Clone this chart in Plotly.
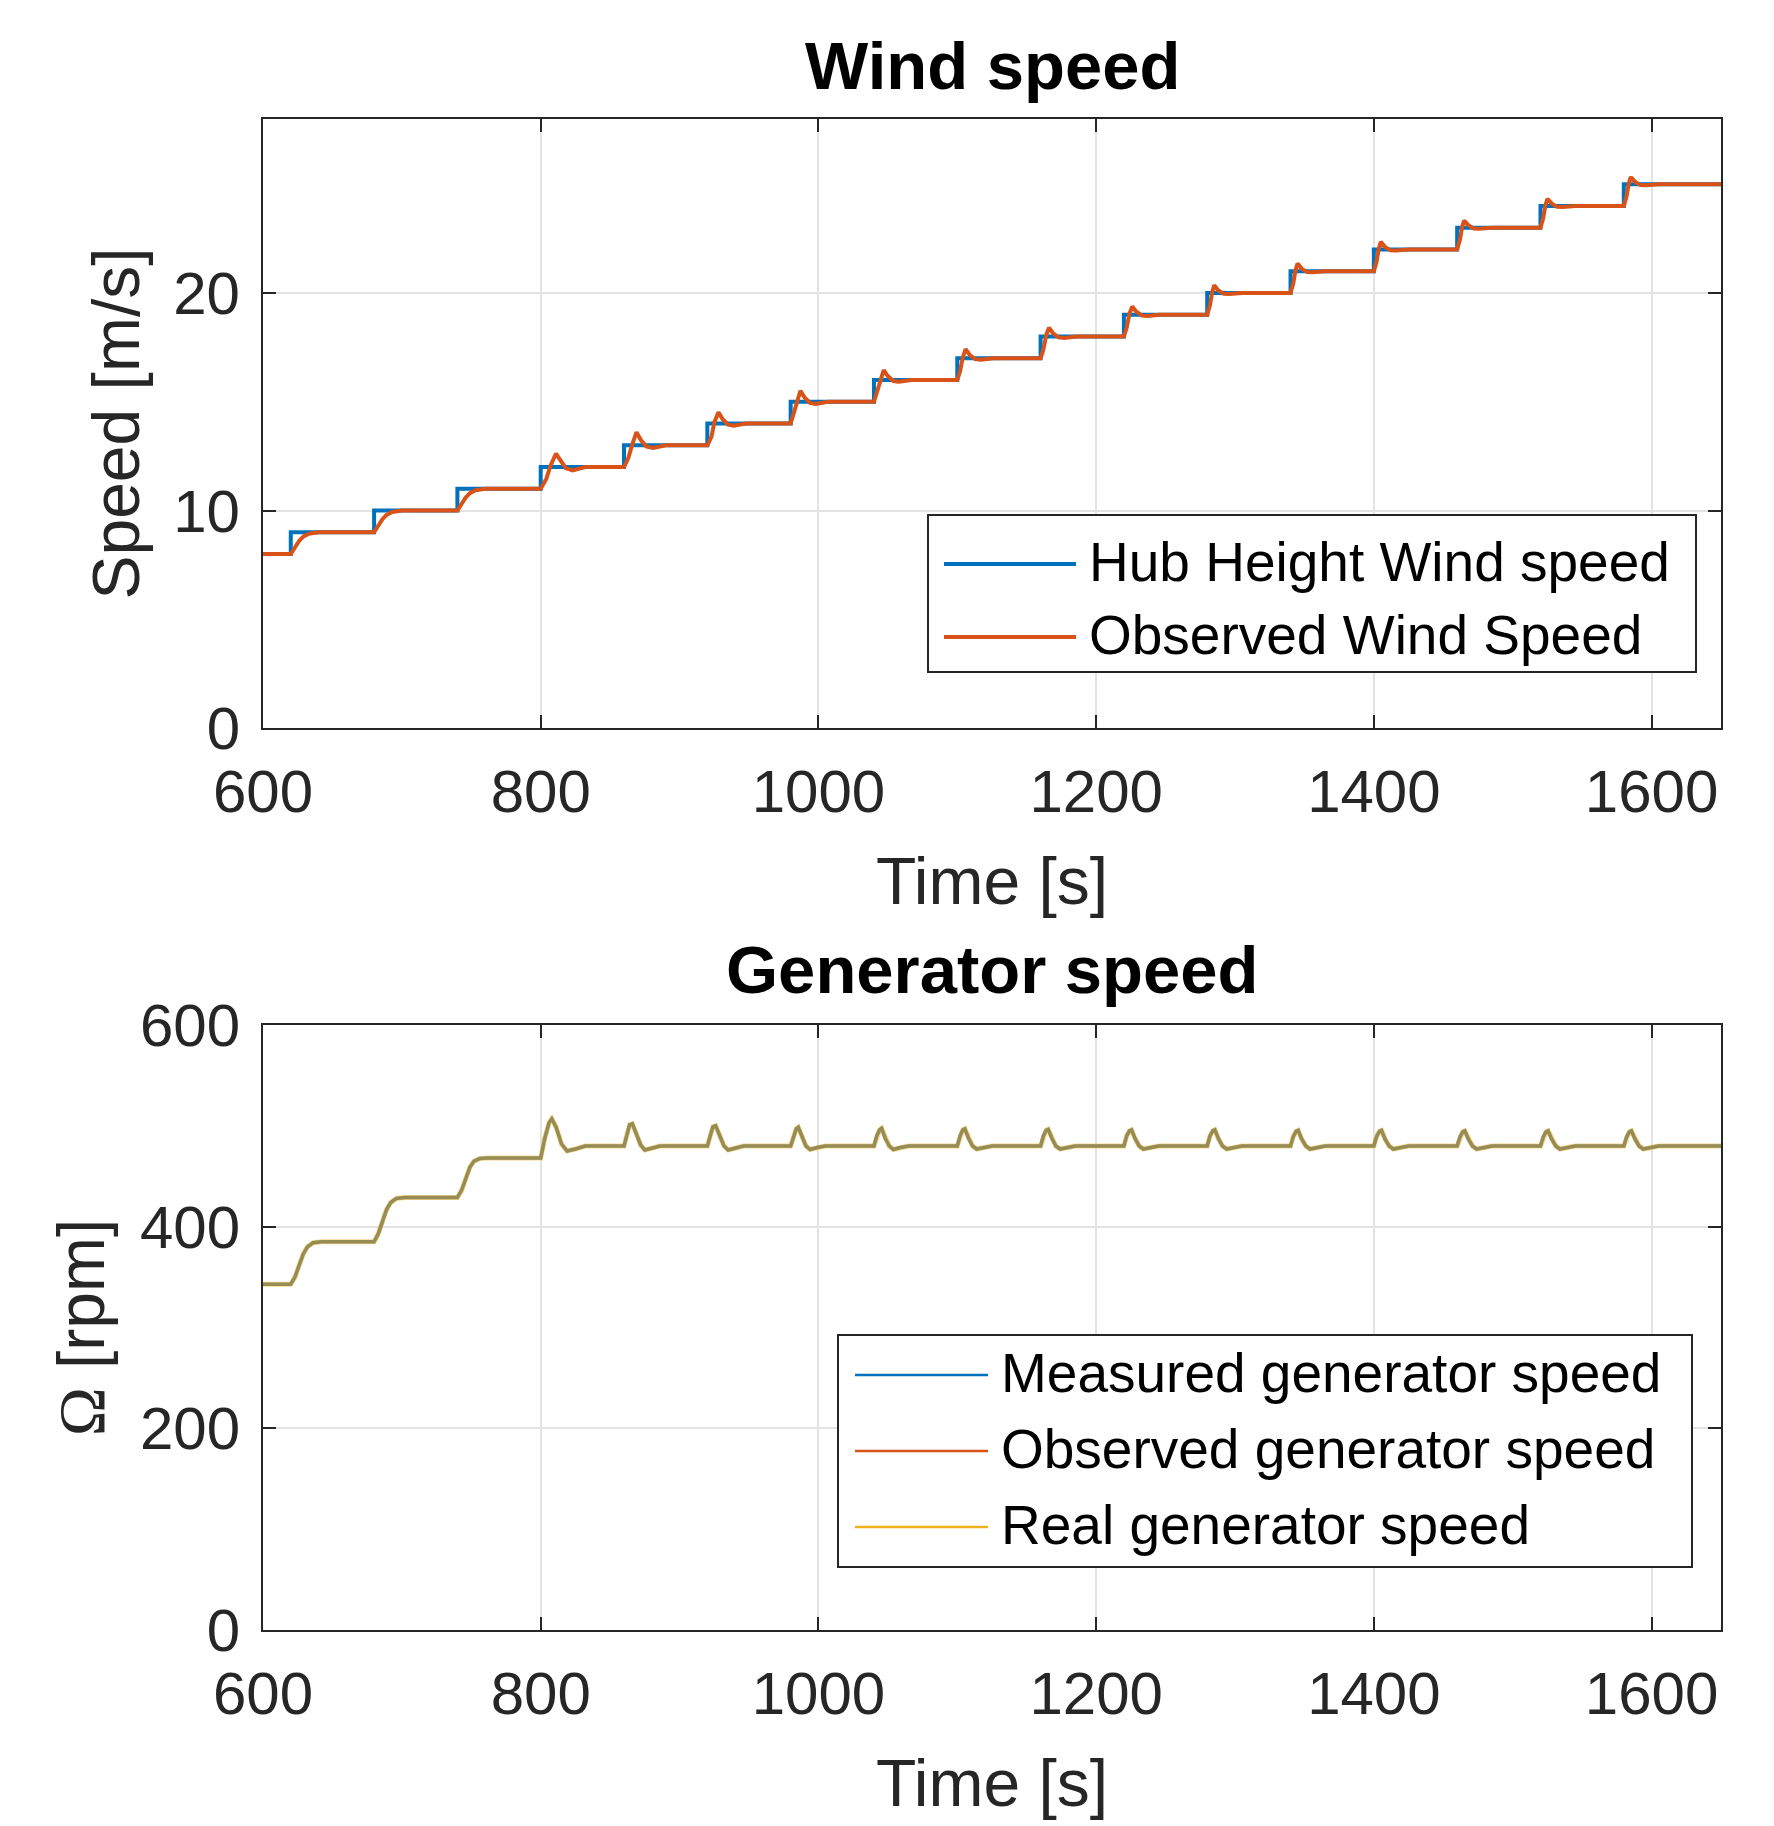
import plotly.graph_objects as go

# ---------------- data ----------------
time_ticks = [600, 800, 1000, 1200, 1400, 1600]
wind_ticks = [0, 10, 20]
gen_ticks = [0, 200, 400, 600]

# Hub height wind speed: step changes (held until next time)
hub_t = [600, 620, 680, 740, 800, 860, 920, 980, 1040, 1100, 1160, 1220,
         1280, 1340, 1400, 1460, 1520, 1580, 1650]
hub_v = [8, 9, 10, 11, 12, 13, 14, 15, 16, 17, 18, 19,
         20, 21, 22, 23, 24, 25, 25]

# Observed wind speed (estimator output)
obs_wind_t = [
    600, 620, 623, 626, 629, 633, 640,
    680, 683, 686, 689, 693, 700,
    740, 743, 746, 749, 753, 760,
    800, 804, 807, 811, 814, 818, 823, 832,
    860, 863, 866, 869, 872, 876, 881, 890,
    920, 923, 925, 928, 931, 935, 939, 948,
    980, 982, 985, 987, 990, 994, 998, 1007,
    1040, 1042, 1045, 1047, 1050, 1054, 1058, 1067,
    1100, 1102, 1104, 1106, 1109, 1113, 1117, 1126,
    1160, 1162, 1164, 1166, 1169, 1173, 1177, 1186,
    1220, 1222, 1224, 1226, 1229, 1233, 1237, 1246,
    1280, 1282, 1283.5, 1285, 1288, 1292, 1296, 1305,
    1340, 1342, 1343.5, 1345, 1348, 1352, 1356, 1365,
    1400, 1402, 1403.5, 1405, 1408, 1412, 1416, 1425,
    1460, 1462, 1463.5, 1465, 1468, 1472, 1476, 1485,
    1520, 1522, 1523.5, 1525, 1528, 1532, 1536, 1545,
    1580, 1582, 1583.5, 1585, 1588, 1592, 1596, 1605, 1650,
]
obs_wind_v = [
    8, 8, 8.3, 8.6, 8.8, 8.93, 9.0,
    9, 9.3, 9.6, 9.8, 9.93, 10.0,
    10, 10.3, 10.6, 10.8, 10.93, 11.0,
    11, 11.45, 12.05, 12.62, 12.3, 11.95, 11.84, 12.0,
    12, 12.4, 13.05, 13.6, 13.25, 12.95, 12.88, 13.0,
    13, 13.4, 14.05, 14.52, 14.2, 13.95, 13.9, 14.0,
    14, 14.4, 15.05, 15.5, 15.2, 14.95, 14.9, 15.0,
    15, 15.4, 16.05, 16.45, 16.18, 15.95, 15.92, 16.0,
    16, 16.4, 17.05, 17.42, 17.15, 16.96, 16.93, 17.0,
    17, 17.4, 18.05, 18.4, 18.15, 17.96, 17.93, 18.0,
    18, 18.4, 19.05, 19.38, 19.14, 18.96, 18.94, 19.0,
    19, 19.45, 20.02, 20.36, 20.12, 19.96, 19.95, 20.0,
    20, 20.45, 21.02, 21.35, 21.12, 20.96, 20.95, 21.0,
    21, 21.45, 22.02, 22.35, 22.12, 21.96, 21.95, 22.0,
    22, 22.45, 23.02, 23.33, 23.12, 22.96, 22.95, 23.0,
    23, 23.45, 24.02, 24.33, 24.12, 23.96, 23.95, 24.0,
    24, 24.45, 25.02, 25.33, 25.12, 24.96, 24.95, 25.0, 25.0,
]

# Generator speed [rpm]
gen_t = [
    600, 620, 623, 626, 629, 632, 636, 642,
    680, 683, 686, 689, 692, 696, 702,
    740, 743, 746, 749, 752, 756, 762,
    800, 803, 806, 808, 811, 815, 819, 825, 832,
    860, 862, 864, 866, 869, 872, 875, 880, 886,
    920, 922, 924, 926, 929, 932, 935, 940, 946,
    980, 982, 984, 985.5, 988, 991, 994, 999, 1005,
    1040, 1042, 1044, 1045.5, 1048, 1051, 1054, 1059, 1065,
    1100, 1102, 1104, 1105.5, 1108, 1111, 1114, 1119, 1125,
    1160, 1162, 1164, 1165.5, 1168, 1171, 1174, 1179, 1185,
    1220, 1222, 1224, 1225.5, 1228, 1231, 1234, 1239, 1245,
    1280, 1282, 1284, 1285.5, 1288, 1291, 1294, 1299, 1305,
    1340, 1342, 1344, 1345.5, 1348, 1351, 1354, 1359, 1365,
    1400, 1402, 1404, 1405.5, 1408, 1411, 1414, 1419, 1425,
    1460, 1462, 1464, 1465.5, 1468, 1471, 1474, 1479, 1485,
    1520, 1522, 1524, 1525.5, 1528, 1531, 1534, 1539, 1545,
    1580, 1582, 1584, 1585.5, 1588, 1591, 1594, 1599, 1605, 1650,
]
gen_measured = [
    343, 343, 350, 362, 373, 380, 384, 385,
    385, 393, 406, 417, 424, 428, 429,
    429, 436, 448, 459, 465, 467.5, 468,
    468, 488, 503, 507, 499, 482, 475, 477, 480,
    480, 492, 501, 502, 492, 481, 476, 478, 480,
    480, 491, 499, 500, 490, 480, 476, 478, 480,
    480, 490, 497, 498.5, 489, 480, 476.5, 478.5, 480,
    480, 490, 496, 497.5, 488, 480, 476.5, 478.5, 480,
    480, 490, 496, 497, 488, 480, 477, 478.5, 480,
    480, 490, 495.5, 496.5, 488, 480, 477, 478.5, 480,
    480, 490, 495, 496, 487.5, 480, 477, 478.5, 480,
    480, 490, 495, 496, 487.5, 480, 477, 478.5, 480,
    480, 489.5, 494.5, 495.5, 487, 480, 477, 478.5, 480,
    480, 489.5, 494.5, 495.5, 487, 480, 477, 478.5, 480,
    480, 489, 494, 495, 487, 480, 477, 478.5, 480,
    480, 489, 494, 495, 487, 480, 477, 478.5, 480,
    480, 489, 494, 495, 487, 480, 477, 478.5, 480, 480,
]
gen_observed = list(gen_measured)
gen_real = list(gen_measured)

wind_names = ["Hub Height Wind speed", "Observed Wind Speed"]
gen_names = ["Measured generator speed", "Observed generator speed",
             "Real generator speed"]

# ---------------- styling ----------------
BLUE, ORANGE, YELLOW = "#0072BD", "#D95319", "#EDB120"
FONT = "Liberation Sans, Arial, Helvetica, sans-serif"
AXC = "#262626"
W, H = 1774, 1826
ML, MR, MT, MB = 263, 53, 119, 196
PW, PH = W - ML - MR, H - MT - MB


def px_x(p):
    return (p - ML) / PW


def px_y(p):
    return (H - MB - p) / PH


fig = go.Figure()

fig.add_trace(go.Scatter(x=hub_t, y=hub_v, name=wind_names[0], mode="lines",
                         line=dict(color=BLUE, width=4, shape="hv"),
                         xaxis="x", yaxis="y", showlegend=False))
fig.add_trace(go.Scatter(x=obs_wind_t, y=obs_wind_v, name=wind_names[1],
                         mode="lines", line=dict(color=ORANGE, width=4),
                         xaxis="x", yaxis="y", showlegend=False))

fig.add_trace(go.Scatter(x=gen_t, y=gen_measured, name=gen_names[0],
                         mode="lines", line=dict(color=BLUE, width=3.5),
                         xaxis="x2", yaxis="y2", showlegend=False))
fig.add_trace(go.Scatter(x=gen_t, y=gen_observed, name=gen_names[1],
                         mode="lines", line=dict(color=ORANGE, width=3.5),
                         opacity=0.3, xaxis="x2", yaxis="y2",
                         showlegend=False))
fig.add_trace(go.Scatter(x=gen_t, y=gen_real, name=gen_names[2],
                         mode="lines", line=dict(color=YELLOW, width=5),
                         opacity=0.5, xaxis="x2", yaxis="y2",
                         showlegend=False))

top_dom = [px_y(728), 1.0]
bot_dom = [0.0, px_y(1025)]

common_x = dict(range=[600, 1650], tickvals=time_ticks,
                showgrid=True, gridcolor="#e3e3e3", gridwidth=1.5,
                showline=True, linecolor=AXC, linewidth=2, mirror="ticks",
                ticks="inside", ticklen=13, tickwidth=2, tickcolor=AXC,
                tickfont=dict(family=FONT, size=60, color=AXC),
                ticklabelstandoff=10, zeroline=False)
common_y = dict(showgrid=True, gridcolor="#e3e3e3", gridwidth=1.5,
                showline=True, linecolor=AXC, linewidth=2, mirror="ticks",
                ticks="inside", ticklen=13, tickwidth=2, tickcolor=AXC,
                tickfont=dict(family=FONT, size=60, color=AXC),
                ticklabelstandoff=9, zeroline=False)

fig.update_layout(
    width=W, height=H,
    margin=dict(l=ML, r=MR, t=MT, b=MB, pad=0),
    paper_bgcolor="white", plot_bgcolor="white",
    font=dict(family=FONT, color=AXC),
    showlegend=False,
    xaxis=dict(common_x, domain=[0, 1], anchor="y",
               title=dict(text="Time [s]", standoff=34,
                          font=dict(family=FONT, size=66, color=AXC))),
    yaxis=dict(common_y, domain=top_dom, anchor="x", range=[0, 28],
               tickvals=wind_ticks,
               title=dict(text="Speed [m/s]", standoff=12,
                          font=dict(family=FONT, size=66, color=AXC))),
    xaxis2=dict(common_x, domain=[0, 1], anchor="y2",
                title=dict(text="Time [s]", standoff=34,
                           font=dict(family=FONT, size=66, color=AXC))),
    yaxis2=dict(common_y, domain=bot_dom, anchor="x2", range=[0, 600],
                tickvals=gen_ticks,
                title=dict(text="<span style='font-family:Liberation Serif, Times New Roman, serif'>Ω</span> [rpm]",
                           standoff=14,
                           font=dict(family=FONT, size=66, color=AXC))),
)

# subplot titles
annotations = [
    dict(text="<b>Wind speed</b>", x=0.5, y=px_y(105), xref="paper",
         yref="paper", xanchor="center", yanchor="bottom", showarrow=False,
         font=dict(family=FONT, size=67, color="black")),
    dict(text="<b>Generator speed</b>", x=0.5, y=px_y(1009), xref="paper",
         yref="paper", xanchor="center", yanchor="bottom", showarrow=False,
         font=dict(family=FONT, size=67, color="black")),
]
shapes = []

# legends drawn as boxes with line samples and text
def add_legend(box, line_x, line_ys, text_x, names, colors, lw):
    x0, x1, y0, y1 = box
    shapes.append(dict(type="rect", xref="paper", yref="paper",
                       x0=px_x(x0), x1=px_x(x1), y0=px_y(y0), y1=px_y(y1),
                       line=dict(color=AXC, width=2), fillcolor="white",
                       layer="above"))
    for yy, nm, col in zip(line_ys, names, colors):
        shapes.append(dict(type="line", xref="paper", yref="paper",
                           x0=px_x(line_x[0]), x1=px_x(line_x[1]),
                           y0=px_y(yy), y1=px_y(yy),
                           line=dict(color=col, width=lw), layer="above"))
        annotations.append(dict(text=nm, x=px_x(text_x), y=px_y(yy - 2),
                                xref="paper", yref="paper", xanchor="left",
                                yanchor="middle", showarrow=False,
                                font=dict(family=FONT, size=55, color="black")))


add_legend((928, 1696, 515, 672), (944, 1076), (564, 637), 1087,
           wind_names, [BLUE, ORANGE], 4)
add_legend((838, 1692, 1335, 1567), (855, 988), (1375, 1451, 1527), 999,
           gen_names, [BLUE, ORANGE, YELLOW], 2.5)

fig.update_layout(annotations=annotations, shapes=shapes)

fig.write_html("out.html", config={"displayModeBar": False},
               post_script="document.body.style.margin='0';document.documentElement.style.overflow='hidden';")
